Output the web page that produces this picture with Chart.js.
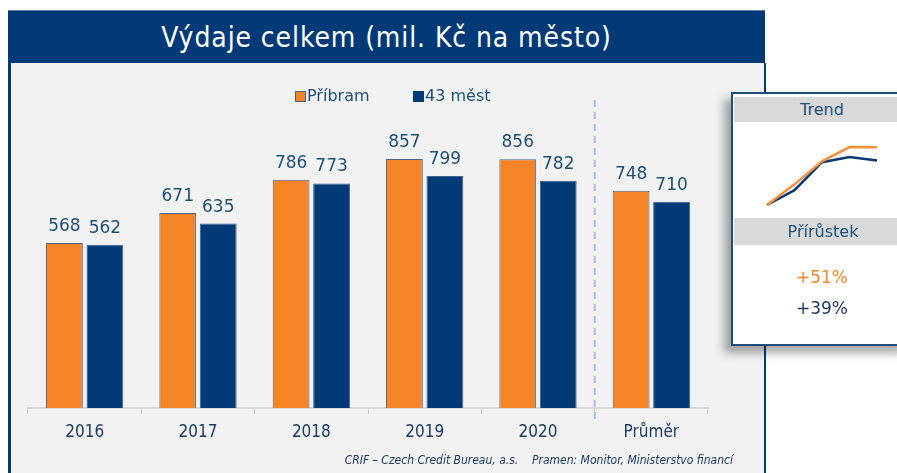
<!DOCTYPE html>
<html>
<head>
<meta charset="utf-8">
<script src="https://cdn.jsdelivr.net/npm/chart.js@4.4.0/dist/chart.umd.min.js"></script>
<style>
  html, body { margin:0; padding:0; background:#ffffff; width:897px; height:473px; overflow:hidden; position:relative; }
  .abs { position:absolute; }
  #titlebar { left:8px; top:10px; width:757px; height:53px; background:#023A78; border-top:1px solid #5B7FA8; box-sizing:border-box;
    color:#fff; font-family:"DejaVu Sans Condensed","Liberation Sans Narrow",sans-serif; font-size:28px; letter-spacing:0.9px; line-height:54px; text-align:center; }
  #panel { left:8px; top:63px; width:758px; height:420px; background:#F2F2F2; border-left:3px solid #023A78; border-right:2px solid #023A78; box-sizing:border-box; }
  #mainCanvas { left:0; top:0; }
  .leg { font-family:"DejaVu Sans",Verdana,sans-serif; font-size:16px; color:#1F4E79; line-height:20px; }
  .sq { width:9px; height:9px; border:1px solid #4A6285; }
  #footer { right:164px; top:453px; font-family:"DejaVu Sans Condensed","Liberation Sans Narrow",sans-serif; font-style:italic; font-size:12px; color:#1F3864; white-space:pre; }
  #side { left:731px; top:92px; width:180px; height:254px; background:#fff; border:2px solid #1F4E79; box-sizing:border-box;
    box-shadow:-7px 7px 9px rgba(0,0,0,0.35); }
  .band { position:absolute; left:1px; right:0; background:#D9D9D9; color:#1F4E79; font-family:"DejaVu Sans",Verdana,sans-serif; font-size:16px; text-align:left; padding-left:0; }
  .pct { position:absolute; font-family:"DejaVu Sans",Verdana,sans-serif; font-size:17px; width:100px; text-align:center; }
</style>
</head>
<body>
<div id="titlebar" class="abs">Výdaje celkem (mil. Kč na město)</div>
<div id="panel" class="abs"></div>
<canvas id="mainCanvas" class="abs" width="897" height="473"></canvas>
<div class="abs sq" style="left:295px;top:91px;background:#F58426;"></div>
<div class="abs leg" style="left:307px;top:86px;">Příbram</div>
<div class="abs sq" style="left:413px;top:91px;background:#023A78;border-color:#023A78;"></div>
<div class="abs leg" style="left:425px;top:86px;">43 měst</div>
<div id="footer" class="abs">CRIF – Czech Credit Bureau, a.s.    Pramen: Monitor, Ministerstvo financí</div>
<div id="side" class="abs">
  <div class="band" style="top:3px;height:25px;line-height:25px;"><span style="position:absolute;left:0;width:176px;text-align:center;">Trend</span></div>
  <div class="band" style="top:124px;height:27px;line-height:27px;"><span style="position:absolute;left:0;width:178px;text-align:center;">Přírůstek</span></div>
  <div id="g1" class="pct" style="left:39px;top:173px;color:#F58426;"></div>
  <div id="g2" class="pct" style="left:39px;top:204px;color:#1F3864;"></div>
</div>
<canvas id="trendCanvas" class="abs" width="150" height="95" style="left:740px;top:125px;"></canvas>
<script>
// ---- data ----
const categories = ['2016', '2017', '2018', '2019', '2020', 'Průměr'];
const pribram = [568, 671, 786, 857, 856, 748];
const mest43 = [562, 635, 773, 799, 782, 710];
const seriesNames = ['Příbram', '43 měst'];
const trendYears = ['2016', '2017', '2018', '2019', '2020'];

const ORANGE = '#F58426';
const NAVY = '#023A78';
const LABEL = '#1F4E79';

const valueLabels = {
  id: 'valueLabels',
  afterDatasetsDraw(chart) {
    const ctx = chart.ctx;
    ctx.save();
    ctx.font = '17px "DejaVu Sans", Verdana, sans-serif';
    ctx.fillStyle = LABEL;
    ctx.textAlign = 'center';
    ctx.textBaseline = 'alphabetic';
    chart.data.datasets.forEach((ds, i) => {
      chart.getDatasetMeta(i).data.forEach((bar, j) => {
        ctx.fillText(String(ds.data[j]), bar.x, bar.y - 12);
      });
    });
    ctx.restore();
  }
};

const separator = {
  id: 'separator',
  afterDraw(chart) {
    const x = chart.scales.x;
    const px = (x.getPixelForValue(4) + x.getPixelForValue(5)) / 2;
    const ctx = chart.ctx;
    ctx.save();
    ctx.strokeStyle = '#A9BFDA';
    ctx.lineWidth = 2;
    ctx.setLineDash([7, 5]);
    ctx.beginPath();
    ctx.moveTo(px, 100);
    ctx.lineTo(px, 420);
    ctx.stroke();
    ctx.restore();
  }
};

new Chart(document.getElementById('mainCanvas'), {
  type: 'bar',
  data: {
    labels: categories,
    datasets: [
      { label: seriesNames[0], data: pribram, backgroundColor: ORANGE, borderColor: '#4F6688', borderWidth: 1,
        categoryPercentage: 0.714, barPercentage: 0.91 },
      { label: seriesNames[1], data: mest43, backgroundColor: NAVY, borderColor: '#3D6395', borderWidth: 1,
        categoryPercentage: 0.714, barPercentage: 0.91 }
    ]
  },
  options: {
    responsive: false,
    animation: false,
    devicePixelRatio: 1,
    layout: { padding: { left: 28, right: 189, top: 117.5, bottom: 15 } },
    plugins: { legend: { display: false }, tooltip: { enabled: false }, title: { display: false } },
    scales: {
      y: { display: false, min: 0, max: 1000 },
      x: {
        afterFit(scale) { scale.height = 50; },
        grid: { display: true, drawOnChartArea: false, drawTicks: true, tickLength: 6, color: '#D0D0D0', lineWidth: 1, offset: true },
        border: { display: true, color: '#D9D9D9', width: 2 },
        ticks: { color: '#1F3864', padding: 8, font: { family: '"DejaVu Sans Condensed","Liberation Sans Narrow",sans-serif', size: 17 } }
      }
    }
  },
  plugins: [valueLabels, separator]
});

// ---- trend panel (growth index relative to 2016) ----
const idxP = trendYears.map((_, i) => pribram[i] / pribram[0]);
const idxM = trendYears.map((_, i) => mest43[i] / mest43[0]);
const last = trendYears.length - 1;
document.getElementById('g1').textContent = '+' + Math.round((pribram[last] / pribram[0] - 1) * 100) + '%';
document.getElementById('g2').textContent = '+' + Math.round((mest43[last] / mest43[0] - 1) * 100) + '%';

new Chart(document.getElementById('trendCanvas'), {
  type: 'line',
  data: {
    labels: trendYears,
    datasets: [
      { data: idxP, borderColor: '#F5913A', borderWidth: 2.5, pointRadius: 0, tension: 0, clip: false },
      { data: idxM, borderColor: '#0B3A72', borderWidth: 2.5, pointRadius: 0, tension: 0, clip: false }
    ]
  },
  options: {
    responsive: false,
    animation: false,
    devicePixelRatio: 1,
    layout: { padding: { left: 27, right: 13, top: 22, bottom: 15 } },
    plugins: { legend: { display: false }, tooltip: { enabled: false } },
    scales: {
      x: { display: false },
      y: { display: false, min: 1.0, max: 1.509 }
    }
  }
});
</script>
</body>
</html>
